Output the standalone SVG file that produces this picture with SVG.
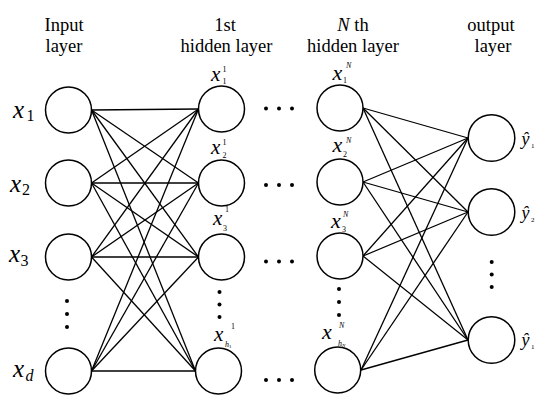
<svg xmlns="http://www.w3.org/2000/svg" width="550" height="406" viewBox="0 0 550 406">
<style>
.node{fill:#fff;stroke:#000;stroke-width:1.5}
.edge{stroke:#000;stroke-width:1.3;fill:none}
.dot{fill:#000}
text{font-family:'Liberation Serif','DejaVu Serif',serif;fill:#000}
.title{font-size:18.5px;text-anchor:middle}
.var{font-style:italic}
</style>
<rect width="550" height="406" fill="#fff"/>
<g id="titles">
<text class="title" x="64" y="30.5">Input</text>
<text class="title" x="64" y="51.5">layer</text>
<text class="title" x="225" y="30.5">1st</text>
<text class="title" x="226.5" y="51.5">hidden layer</text>
<text class="title" x="353" y="30.5"><tspan font-style="italic">N</tspan> th</text>
<text class="title" x="353" y="51.5">hidden layer</text>
<text class="title" x="491" y="30.5">output</text>
<text class="title" x="493" y="51.5">layer</text>
</g>
<g id="connectors">
<line class="edge" x1="91.5" y1="110" x2="198.5" y2="109"/>
<line class="edge" x1="91.5" y1="110" x2="198.5" y2="183"/>
<line class="edge" x1="91.5" y1="110" x2="198.5" y2="257"/>
<line class="edge" x1="91.5" y1="110" x2="195.5" y2="371"/>
<line class="edge" x1="91.5" y1="183" x2="198.5" y2="109"/>
<line class="edge" x1="91.5" y1="183" x2="198.5" y2="183"/>
<line class="edge" x1="91.5" y1="183" x2="198.5" y2="257"/>
<line class="edge" x1="91.5" y1="183" x2="195.5" y2="371"/>
<line class="edge" x1="91.5" y1="257" x2="198.5" y2="109"/>
<line class="edge" x1="91.5" y1="257" x2="198.5" y2="183"/>
<line class="edge" x1="91.5" y1="257" x2="198.5" y2="257"/>
<line class="edge" x1="91.5" y1="257" x2="195.5" y2="371"/>
<line class="edge" x1="91.5" y1="371" x2="198.5" y2="109"/>
<line class="edge" x1="91.5" y1="371" x2="198.5" y2="183"/>
<line class="edge" x1="91.5" y1="371" x2="198.5" y2="257"/>
<line class="edge" x1="91.5" y1="371" x2="195.5" y2="371"/>
<line class="edge" x1="363" y1="108" x2="468" y2="138"/>
<line class="edge" x1="363" y1="108" x2="468" y2="212"/>
<line class="edge" x1="363" y1="108" x2="468" y2="340"/>
<line class="edge" x1="363" y1="182" x2="468" y2="138"/>
<line class="edge" x1="363" y1="182" x2="468" y2="212"/>
<line class="edge" x1="363" y1="182" x2="468" y2="340"/>
<line class="edge" x1="363" y1="256" x2="468" y2="138"/>
<line class="edge" x1="363" y1="256" x2="468" y2="212"/>
<line class="edge" x1="363" y1="256" x2="468" y2="340"/>
<line class="edge" x1="361" y1="370" x2="468" y2="138"/>
<line class="edge" x1="361" y1="370" x2="468" y2="212"/>
<line class="edge" x1="361" y1="370" x2="468" y2="340"/>
</g>
<g id="input-1"><circle class="node" cx="68.5" cy="110" r="23"/><text class="var" x="13" y="118" font-size="25">x</text><text x="26.5" y="121" font-size="16">1</text></g>
<g id="input-2"><circle class="node" cx="68.5" cy="183" r="23"/><text class="var" x="10" y="191.5" font-size="25">x</text><text x="22" y="195" font-size="16">2</text></g>
<g id="input-3"><circle class="node" cx="68.5" cy="257" r="23"/><text class="var" x="9" y="261.5" font-size="25">x</text><text x="20.5" y="266" font-size="16">3</text></g>
<g id="input-d"><circle class="node" cx="68.5" cy="371" r="23"/><text class="var" x="13" y="376.5" font-size="25">x</text><text class="var" x="25.5" y="381" font-size="16">d</text></g>
<g id="input-dots"><circle class="dot" cx="67" cy="301" r="2"/><circle class="dot" cx="67" cy="314" r="2"/><circle class="dot" cx="67" cy="327" r="2"/></g>
<g id="h1-1"><circle class="node" cx="221.5" cy="109" r="23"/><text class="var" x="211" y="80.5" font-size="21">x</text><text x="222.5" y="72" font-size="8">1</text><text x="222.5" y="84" font-size="8">1</text></g>
<g id="h1-2"><circle class="node" cx="221.5" cy="183" r="23"/><text class="var" x="211" y="153.5" font-size="21">x</text><text x="222.5" y="145" font-size="8">1</text><text x="222.5" y="158" font-size="8">2</text></g>
<g id="h1-3"><circle class="node" cx="221.5" cy="257" r="23"/><text class="var" x="213" y="225" font-size="21">x</text><text x="225" y="212" font-size="8">1</text><text x="223" y="231" font-size="8">3</text></g>
<g id="h1-h"><circle class="node" cx="218.5" cy="371" r="23"/><text class="var" x="214" y="340.5" font-size="21">x</text><text x="231" y="329" font-size="8">1</text><text class="var" x="225" y="346.5" font-size="8">h<tspan font-size="5" dy="1.5" font-style="normal">1</tspan></text></g>
<g id="h1-dots"><circle class="dot" cx="219.5" cy="292" r="2"/><circle class="dot" cx="219.5" cy="304.5" r="2"/><circle class="dot" cx="219.5" cy="317" r="2"/></g>
<g id="layer-dots">
<circle class="dot" cx="266" cy="108.5" r="2"/><circle class="dot" cx="279" cy="108.5" r="2"/><circle class="dot" cx="292" cy="108.5" r="2"/>
<circle class="dot" cx="266" cy="185" r="2"/><circle class="dot" cx="279" cy="185" r="2"/><circle class="dot" cx="292" cy="185" r="2"/>
<circle class="dot" cx="266" cy="261.5" r="2"/><circle class="dot" cx="279" cy="261.5" r="2"/><circle class="dot" cx="292" cy="261.5" r="2"/>
<circle class="dot" cx="266" cy="380" r="2"/><circle class="dot" cx="279" cy="380" r="2"/><circle class="dot" cx="292" cy="380" r="2"/>
</g>
<g id="hN-1"><circle class="node" cx="340" cy="108" r="23"/><text class="var" x="332.5" y="80" font-size="22">x</text><text class="var" x="346" y="68" font-size="8">N</text><text x="343" y="83" font-size="8">1</text></g>
<g id="hN-2"><circle class="node" cx="340" cy="182" r="23"/><text class="var" x="332.5" y="152" font-size="22">x</text><text class="var" x="346" y="142.5" font-size="8">N</text><text x="343" y="156.5" font-size="8">2</text></g>
<g id="hN-3"><circle class="node" cx="340" cy="256" r="23"/><text class="var" x="331" y="228.3" font-size="22">x</text><text class="var" x="343" y="216.5" font-size="8">N</text><text x="342" y="231.5" font-size="8">3</text></g>
<g id="hN-h"><circle class="node" cx="337.7" cy="370" r="23"/><text class="var" x="322" y="338.5" font-size="22">x</text><text class="var" x="339" y="328" font-size="8">N</text><text class="var" x="338" y="345.5" font-size="8">h<tspan font-size="5" dy="1.5">N</tspan></text></g>
<g id="hN-dots"><circle class="dot" cx="339" cy="289" r="2"/><circle class="dot" cx="339" cy="302" r="2"/><circle class="dot" cx="339" cy="315" r="2"/></g>
<g id="out-1"><circle class="node" cx="491.5" cy="138" r="23.3"/><text class="var" x="521.5" y="145" font-size="18">ŷ</text><text x="531" y="148" font-size="7">1</text></g>
<g id="out-2"><circle class="node" cx="491.5" cy="212" r="23.3"/><text class="var" x="521.5" y="219" font-size="18">ŷ</text><text x="531" y="222" font-size="7">2</text></g>
<g id="out-3"><circle class="node" cx="491.5" cy="340" r="23.3"/><text class="var" x="521.5" y="346" font-size="18">ŷ</text><text x="531" y="349" font-size="7">1</text></g>
<g id="out-dots"><circle class="dot" cx="491.7" cy="262" r="2"/><circle class="dot" cx="491.7" cy="274.5" r="2"/><circle class="dot" cx="491.7" cy="287" r="2"/></g>
</svg>
